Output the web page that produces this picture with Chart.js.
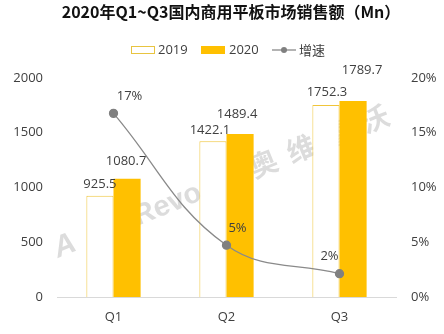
<!DOCTYPE html>
<html>
<head>
<meta charset="utf-8">
<script src="https://cdn.jsdelivr.net/npm/chart.js@4"></script>
<style>
  html, body { margin: 0; padding: 0; background: #fff; }
  #wrap { width: 444px; height: 334px; position: relative; }
</style>
</head>
<body>
<div id="wrap"><canvas id="c" width="444" height="334"></canvas></div>
<script>
// Quarterly sales of commercial tablets in China (Mn), 2019 vs 2020, with YoY growth
const quarters = ['Q1', 'Q2', 'Q3'];
const sales2019 = [925.5, 1422.1, 1752.3];
const sales2020 = [1080.7, 1489.4, 1789.7];
const growth = [0.1677, 0.0473, 0.0213];
const seriesNames = ['2019', '2020', '增速'];
const titleText = '2020年Q1~Q3国内商用平板市场销售额（Mn）';
const watermarkLatin = ['A', 'Revo'];
const watermarkCJK = ['奥', '维', '睿', '沃'];

const GOLD = '#FFC000';
const GREY_LINE = '#8a8a8a';
const TEXT = '#404040';
const NUM_FONT = '"Open Sans", "Liberation Sans", "Noto Sans CJK SC", sans-serif';
const CJK_FONT = '"Noto Sans CJK SC", "Open Sans", sans-serif';

// label nudges (dx, dy) from each mark's anchor point
const labelNudge = {
  0: [[0, -11], [-3, -11], [1, -13]],
  1: [[-1, -17], [-3, -20], [9, -31]],
  2: [[16, -17], [11, -17], [-10, -17]]
};

const fmtNum = v => v.toFixed(1);
const fmtPct = v => Math.round(v * 100) + '%';

const decorations = {
  id: 'decorations',
  beforeDatasetsDraw(chart) {
    // faint brand watermark running diagonally behind the bars
    const ctx = chart.ctx;
    ctx.save();
    ctx.translate(58, 258);
    ctx.rotate(-22 * Math.PI / 180);
    ctx.fillStyle = 'rgba(150,150,150,0.33)';
    ctx.textBaseline = 'alphabetic';
    ctx.textAlign = 'left';
    ctx.font = 'italic bold 30px "Liberation Sans", sans-serif';
    ctx.fillText(watermarkLatin[0], 0, 0);
    ctx.font = 'bold 29px "Liberation Sans", sans-serif';
    ctx.fillText(watermarkLatin[1], 86, 0);
    ctx.font = 'bold 28px ' + CJK_FONT;
    watermarkCJK.forEach((ch, i) => ctx.fillText(ch, 212 + i * 40, 0));
    ctx.restore();
  },
  afterDatasetsDraw(chart) {
    const ctx = chart.ctx;
    ctx.save();
    ctx.font = '13px ' + NUM_FONT;
    ctx.fillStyle = TEXT;
    ctx.textAlign = 'center';
    ctx.textBaseline = 'middle';
    chart.data.datasets.forEach((ds, di) => {
      const meta = chart.getDatasetMeta(di);
      meta.data.forEach((el, i) => {
        const v = ds.data[i];
        const [dx, dy] = labelNudge[di][i];
        const txt = di === 2 ? fmtPct(v) : fmtNum(v);
        ctx.fillText(txt, el.x + dx, el.y + dy);
      });
    });
    ctx.restore();
  },
  afterDraw(chart) {
    const ctx = chart.ctx;
    ctx.save();
    // title
    ctx.fillStyle = '#111';
    ctx.font = 'bold 16px ' + CJK_FONT;
    ctx.textAlign = 'center';
    ctx.textBaseline = 'middle';
    ctx.fillText(titleText, 231, 12);

    // legend
    const ly = 50;
    ctx.font = '13px ' + NUM_FONT;
    ctx.textAlign = 'left';
    ctx.fillStyle = '#fff';
    ctx.fillRect(131, 46, 24, 8);
    ctx.strokeStyle = '#E8C440';
    ctx.lineWidth = 1;
    ctx.strokeRect(131.5, 46.5, 23, 7);
    ctx.fillStyle = TEXT;
    ctx.fillText(seriesNames[0], 158, ly);

    ctx.fillStyle = GOLD;
    ctx.fillRect(201, 46, 24, 8);
    ctx.fillStyle = TEXT;
    ctx.fillText(seriesNames[1], 229, ly);

    ctx.strokeStyle = GREY_LINE;
    ctx.lineWidth = 1.3;
    ctx.beginPath();
    ctx.moveTo(272, ly);
    ctx.lineTo(296, ly);
    ctx.stroke();
    ctx.fillStyle = '#808080';
    ctx.beginPath();
    ctx.arc(284, ly, 3, 0, Math.PI * 2);
    ctx.fill();
    ctx.fillStyle = TEXT;
    ctx.font = '13px ' + CJK_FONT;
    ctx.fillText(seriesNames[2], 299, ly);
    ctx.restore();
  }
};

new Chart(document.getElementById('c'), {
  data: {
    labels: quarters,
    datasets: [
      {
        type: 'bar',
        label: seriesNames[0],
        data: sales2019,
        backgroundColor: '#ffffff',
        borderColor: '#F0C53A',
        borderWidth: 1,
        borderSkipped: 'bottom',
        yAxisID: 'y',
        order: 2
      },
      {
        type: 'bar',
        label: seriesNames[1],
        data: sales2020,
        backgroundColor: GOLD,
        borderWidth: 0,
        yAxisID: 'y',
        order: 2
      },
      {
        type: 'line',
        label: seriesNames[2],
        data: growth,
        borderColor: GREY_LINE,
        borderWidth: 1.3,
        tension: 0.4,
        pointRadius: 4,
        pointBackgroundColor: '#808080',
        pointBorderColor: '#808080',
        yAxisID: 'y1',
        order: 1
      }
    ]
  },
  options: {
    responsive: false,
    animation: false,
    events: [],
    datasets: {
      bar: { categoryPercentage: 0.48, barPercentage: 1.0 }
    },
    layout: { padding: { top: 78, left: 0, right: 0, bottom: 0 } },
    plugins: {
      legend: { display: false },
      title: { display: false },
      tooltip: { enabled: false }
    },
    scales: {
      x: {
        grid: { display: false, drawTicks: false },
        border: { display: true, color: '#d9d9d9', width: 1 },
        ticks: { color: TEXT, font: { family: NUM_FONT, size: 13 }, padding: 12 },
        afterFit(s) { s.height = 37; }
      },
      y: {
        position: 'left',
        min: 0,
        max: 2000,
        grid: { display: false, drawTicks: false },
        border: { display: false },
        ticks: {
          stepSize: 500,
          color: TEXT,
          font: { family: NUM_FONT, size: 13 },
          padding: 14,
          callback: v => String(v)
        },
        afterFit(s) { s.width = 57; }
      },
      y1: {
        position: 'right',
        min: 0,
        max: 0.2,
        grid: { display: false, drawTicks: false },
        border: { display: false },
        ticks: {
          stepSize: 0.05,
          color: TEXT,
          font: { family: NUM_FONT, size: 13 },
          padding: 15,
          callback: v => Math.round(v * 100) + '%'
        },
        afterFit(s) { s.width = 48; }
      }
    }
  },
  plugins: [decorations]
});
</script>
</body>
</html>
